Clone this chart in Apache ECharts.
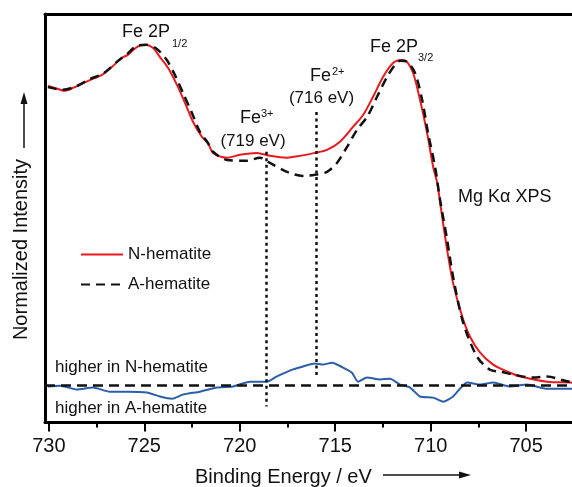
<!DOCTYPE html>
<html>
<head>
<meta charset="utf-8">
<script src="https://cdn.jsdelivr.net/npm/echarts@6/dist/echarts.min.js"></script>
<style>html,body{margin:0;padding:0;background:#fff;}#c{width:572px;height:487px;}</style>
</head>
<body>
<div id="c"></div>
<script>
// ---- data (binding energy in eV, normalized intensity in arbitrary units) ----
var xTickLabels = [705, 710, 715, 720, 725, 730];
var xMinorTicks = [702.5, 707.5, 712.5, 717.5, 722.5, 727.5];

var nEnergy = [730.05,729.69,729.16,728.53,727.85,727.22,726.70,726.17,725.86,725.39,724.97,724.55,724.18,723.76,723.29,722.87,722.45,721.98,721.67,721.40,720.67,719.99,719.10,718.42,717.53,716.84,716.06,715.43,714.75,714.07,713.54,713.02,712.49,711.97,711.50,711.24,710.92,710.56,710.19,709.87,709.66,709.40,709.14,708.83,708.35,707.94,707.41,706.73,705.84,705.31,703.90,702.69,702.4];
var nIntensity = [80.6,80.1,79.3,80.6,82.2,83.6,85.7,88.2,89.0,91.1,91.7,90.9,88.4,85.5,80.9,76.1,71.0,66.9,65.3,62.6,61.3,62.1,62.6,61.8,61.3,61.8,62.6,63.4,65.6,69.6,72.8,77.7,83.1,86.8,87.6,87.1,84.1,76.9,68.0,58.8,54.5,45.4,36.5,27.6,18.5,13.1,8.8,5.6,3.4,2.4,1.0,0.75,0.6];

var aEnergy = [730.05,729.27,728.53,727.85,727.17,726.44,725.91,725.39,724.86,724.34,723.82,723.40,722.98,722.51,722.09,721.67,721.40,720.67,719.62,718.94,718.42,717.53,716.69,716.06,715.43,714.91,714.38,713.86,713.33,712.81,712.28,711.87,711.60,711.24,710.82,710.45,710.14,709.77,709.51,709.14,708.83,708.30,707.57,706.89,706.36,705.68,704.63,703.90,702.69,702.4];
var aIntensity = [80.3,79.6,80.6,82.5,83.9,87.1,89.2,91.4,91.7,90.6,87.6,83.6,78.8,73.4,68.3,65.3,62.9,60.7,60.5,61.3,59.9,57.5,56.4,56.7,57.5,59.9,64.2,68.8,72.3,77.7,83.1,86.3,87.4,87.1,84.1,76.9,68.0,58.8,50.0,39.2,29.3,16.9,7.7,4.2,3.7,2.9,2.1,2.4,1.0,1.0];

var dEnergy = [730.05,729.42,728.53,727.69,726.80,725.91,724.86,724.18,723.55,722.98,722.09,721.19,720.36,719.47,718.57,718.05,717.21,716.69,716.06,715.64,715.17,714.59,714.12,713.81,713.33,712.65,712.13,711.60,711.08,710.56,709.87,709.35,708.83,708.09,707.41,706.73,705.84,704.95,703.90,702.69,702.4];
var dValue = [-0.3,-0.1,-1.1,-0.6,-1.7,-1.7,-1.9,-3.0,-3.6,-2.5,-1.7,-0.6,-0.3,1.0,1.0,2.4,4.3,5.1,5.9,5.6,6.1,4.8,3.4,1.0,2.1,1.6,1.8,0.2,-0.6,-3.0,-3.3,-4.4,-3.0,0.8,0.2,0.8,-0.3,0.2,-0.9,-0.9,-0.9];

var refEnergy = [718.6, 716.0];
var refTop = [62.9, 73.6];
var refBottom = [-5.7, 2.1];
var diffBaseline = 0;

var X_MIN = 702.6, X_MAX = 730.2;

function pairs(xs, ys) { return xs.map(function (x, i) { return [x, ys[i]]; }); }

var FONT = 'Liberation Sans, Arial, Helvetica, sans-serif';
var chart = echarts.init(document.getElementById('c'), null, {renderer: 'canvas'});

function txt(text, x, y, size, align, extra) {
  var o = {
    type: 'text', x: x, y: y, silent: true,
    style: {text: text, fontSize: size, fontFamily: FONT, fill: '#111',
      align: align || 'left', textAlign: align || 'left',
      verticalAlign: 'middle', textVerticalAlign: 'middle'}
  };
  if (extra) for (var k in extra) o[k] = extra[k];
  return o;
}

var markLineData = [
  [{coord: [X_MAX, diffBaseline]}, {coord: [X_MIN, diffBaseline],
    lineStyle: {color: '#111', width: 2.5, type: [10, 6]}}]
];
refEnergy.forEach(function (e, i) {
  markLineData.push([{coord: [e, refTop[i]]}, {coord: [e, refBottom[i]],
    lineStyle: {color: '#111', width: 2.5, type: [3, 3.5]}}]);
});

var option = {
  animation: false,
  backgroundColor: '#fff',
  grid: {left: 45, right: 0, top: 14, bottom: 64.5, show: false},
  legend: {
    data: ['N-hematite', 'A-hematite'],
    orient: 'vertical', left: 80, top: 246, padding: 0,
    itemWidth: 42, itemHeight: 14, itemGap: 13,
    itemStyle: {color: 'rgba(0,0,0,0)', opacity: 0, borderWidth: 0},
    textStyle: {fontSize: 17, fontFamily: FONT, color: '#111'}
  },
  xAxis: [{
    type: 'value', inverse: true, min: X_MIN, max: X_MAX, position: 'bottom',
    axisLine: {show: true, onZero: false, lineStyle: {color: '#000', width: 3}},
    axisTick: {show: true, customValues: xTickLabels, length: 9, lineStyle: {color: '#000', width: 2}},
    axisLabel: {show: true, customValues: xTickLabels, fontSize: 20, fontFamily: FONT, color: '#111', margin: 14},
    splitLine: {show: false}
  }, {
    type: 'value', inverse: true, min: X_MIN, max: X_MAX, position: 'bottom',
    axisLine: {show: false, onZero: false},
    axisTick: {show: true, customValues: xMinorTicks, length: 5, lineStyle: {color: '#000', width: 2}},
    axisLabel: {show: false},
    splitLine: {show: false}
  }, {
    type: 'value', inverse: true, min: X_MIN, max: X_MAX, position: 'top',
    axisLine: {show: true, onZero: false, lineStyle: {color: '#000', width: 3}},
    axisTick: {show: false}, axisLabel: {show: false}, splitLine: {show: false}
  }],
  yAxis: {
    type: 'value', min: -10, max: 100, position: 'left',
    axisLine: {show: true, onZero: false, lineStyle: {color: '#000', width: 3}},
    axisTick: {show: false}, axisLabel: {show: false}, splitLine: {show: false}
  },
  series: [{
    name: 'N-hematite', type: 'line', data: pairs(nEnergy, nIntensity),
    smooth: 0.3, symbol: 'none', showSymbol: false,
    lineStyle: {color: '#e8191f', width: 2}, itemStyle: {color: '#e8191f'}, z: 3
  }, {
    name: 'A-hematite', type: 'line', data: pairs(aEnergy, aIntensity),
    smooth: 0.3, symbol: 'none', showSymbol: false,
    lineStyle: {color: '#111', width: 2.5, type: [9, 6]}, itemStyle: {color: '#111'}, z: 4
  }, {
    name: 'Difference', type: 'line', data: pairs(dEnergy, dValue),
    smooth: 0.2, symbol: 'none', showSymbol: false,
    lineStyle: {color: '#2b5ea8', width: 2}, itemStyle: {color: '#2b5ea8'}, z: 2,
    markLine: {silent: true, symbol: 'none', label: {show: false}, data: markLineData}
  }],
  graphic: [
    txt('Fe 2P', 122, 32, 18),
    txt('1/2', 172, 44, 11),
    txt('Fe 2P', 370, 47, 18),
    txt('3/2', 418, 58, 11),
    txt('Fe', 310, 76, 18),
    txt('2+', 332, 72, 11),
    txt('(716 eV)', 321.5, 98, 17, 'center'),
    txt('Fe', 240, 118, 18),
    txt('3+', 261, 114, 11),
    txt('(719 eV)', 253, 141, 17, 'center'),
    txt('Mg K\u03b1 XPS', 458, 197, 18),
    txt('higher in N-hematite', 55, 367, 17),
    txt('higher in A-hematite', 55, 408, 17),
    txt('Binding Energy / eV', 195, 477, 20),
    txt('Normalized Intensity', 21, 249.5, 20, 'center', {rotation: Math.PI / 2}),
    {type: 'line', silent: true, shape: {x1: 24, y1: 148, x2: 24, y2: 102}, style: {stroke: '#111', lineWidth: 1.5}},
    {type: 'polygon', silent: true, shape: {points: [[24, 92], [20.5, 104], [27.5, 104]]}, style: {fill: '#111'}},
    {type: 'line', silent: true, shape: {x1: 383, y1: 475, x2: 461, y2: 475}, style: {stroke: '#111', lineWidth: 1.5}},
    {type: 'polygon', silent: true, shape: {points: [[471, 475], [459, 471.5], [459, 478.5]]}, style: {fill: '#111'}}
  ]
};
chart.setOption(option);
</script>
</body>
</html>
